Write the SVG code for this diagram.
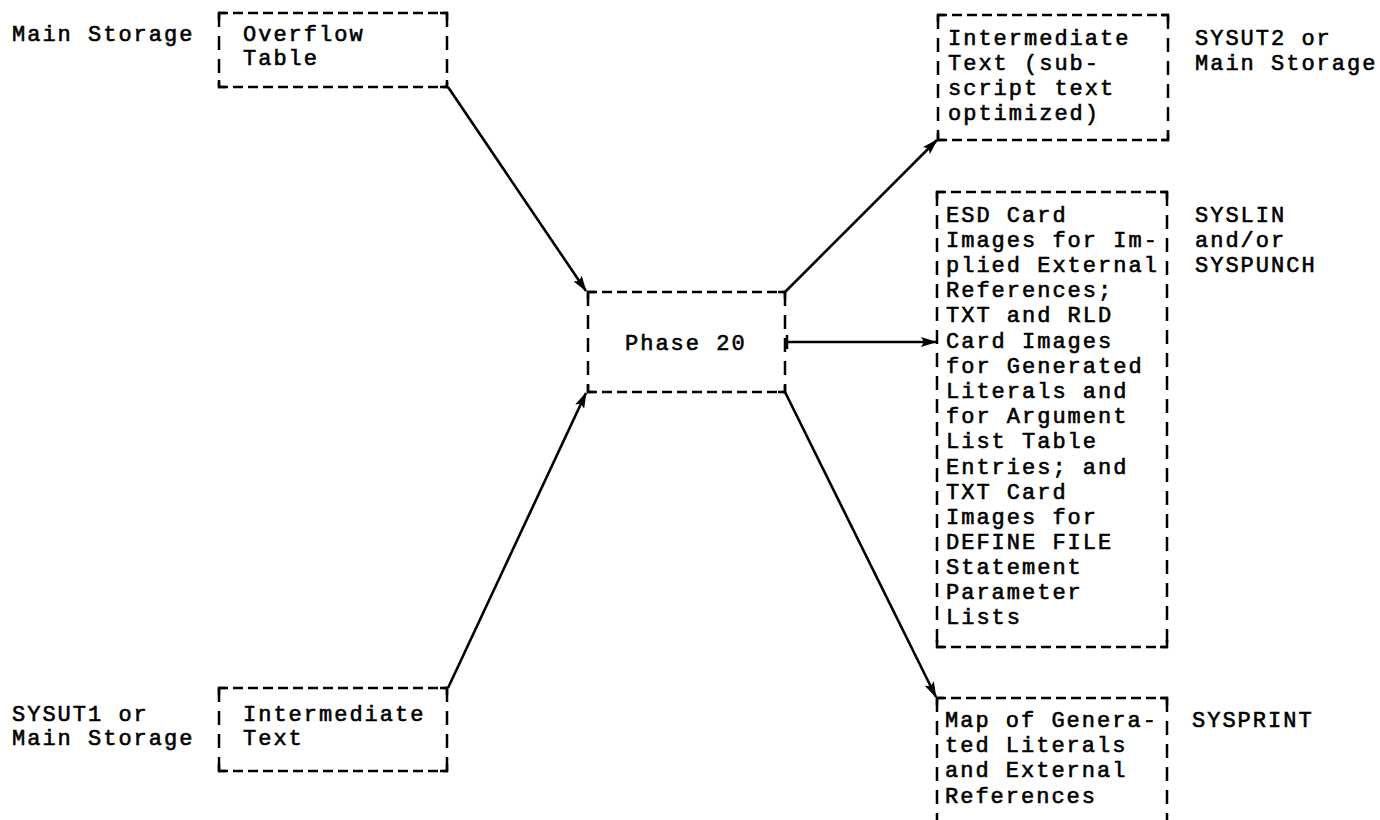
<svg xmlns="http://www.w3.org/2000/svg" width="1380" height="820" viewBox="0 0 1380 820">
  <defs>
    <marker id="arrow" viewBox="0 0 16 10" refX="15" refY="5" markerWidth="16" markerHeight="10" markerUnits="userSpaceOnUse" orient="auto">
      <path d="M0,0 L16,5 L0,10 L3,5 Z" fill="#000"/>
    </marker>
  </defs>
  <style>
    text { font-family: "Liberation Mono", "DejaVu Sans Mono", monospace; font-size: 22px; letter-spacing: 2px; fill: #000; stroke: #000; stroke-width: 0.6px; }
    .dh { fill: none; stroke: #000; stroke-width: 2.5; stroke-dasharray: 10 5; }
    .dv { fill: none; stroke: #000; stroke-width: 2.5; stroke-dasharray: 14 9; }
    .corner { fill: none; stroke: #000; stroke-width: 2.5; }
    .link { fill: none; stroke: #000; stroke-width: 2.6; marker-end: url(#arrow); }
    .tick { fill: none; stroke: #000; stroke-width: 2.5; }
  </style>
  <rect width="1380" height="820" fill="#fff"/>

  <!-- storage labels beside the data sets -->
  <g id="labels">
    <text x="12" y="41">Main Storage</text>
    <text x="12" y="721">SYSUT1 or</text>
    <text x="12" y="745">Main Storage</text>
    <text x="1195" y="45">SYSUT2 or</text>
    <text x="1195" y="70">Main Storage</text>
    <text x="1195" y="222">SYSLIN</text>
    <text x="1195" y="247">and/or</text>
    <text x="1195" y="272">SYSPUNCH</text>
    <text x="1192" y="727">SYSPRINT</text>
  </g>

  <g id="overflow-table">
    <path class="dh" d="M218,13 H448 M218,87 H448"/>
    <path class="dv" d="M219,13 V87 M447,13 V87"/>
    <path class="corner" d="M219,20 V13 H226 M440,13 H447 V20 M219,80 V87 H226 M440,87 H447 V80"/>
    <text x="243" y="41">Overflow</text>
    <text x="243" y="65">Table</text>
  </g>

  <g id="input-text">
    <path class="dh" d="M218,688 H448 M218,771 H448"/>
    <path class="dv" d="M219,688 V771 M447,688 V771"/>
    <path class="corner" d="M219,695 V688 H226 M440,688 H447 V695 M219,764 V771 H226 M440,771 H447 V764"/>
    <text x="243" y="721">Intermediate</text>
    <text x="243" y="745">Text</text>
  </g>

  <g id="phase-20">
    <path class="dh" d="M587,292 H786 M587,392 H786"/>
    <path class="dv" d="M588,292 V392 M785,292 V392"/>
    <path class="corner" d="M588,299 V292 H595 M778,292 H785 V299 M588,385 V392 H595 M778,392 H785 V385"/>
    <text x="625" y="350">Phase 20</text>
  </g>

  <g id="output-text">
    <path class="dh" d="M937,15 H1169 M937,140 H1169"/>
    <path class="dv" d="M938,15 V140 M1168,15 V140"/>
    <path class="corner" d="M938,22 V15 H945 M1161,15 H1168 V22 M938,133 V140 H945 M1161,140 H1168 V133"/>
    <text x="948" y="45">Intermediate</text>
    <text x="948" y="70">Text (sub-</text>
    <text x="948" y="95">script text</text>
    <text x="948" y="120">optimized)</text>
  </g>

  <g id="card-images">
    <path class="dh" d="M936,192 H1168 M936,647 H1168"/>
    <path class="dv" d="M937,192 V647 M1167,192 V647"/>
    <path class="corner" d="M937,199 V192 H944 M1160,192 H1167 V199 M937,640 V647 H944 M1160,647 H1167 V640"/>
    <text x="946" y="222">ESD Card</text>
    <text x="946" y="247">Images for Im-</text>
    <text x="946" y="272">plied External</text>
    <text x="946" y="297">References;</text>
    <text x="946" y="322">TXT and RLD</text>
    <text x="946" y="348">Card Images</text>
    <text x="946" y="373">for Generated</text>
    <text x="946" y="398">Literals and</text>
    <text x="946" y="423">for Argument</text>
    <text x="946" y="448">List Table</text>
    <text x="946" y="474">Entries; and</text>
    <text x="946" y="499">TXT Card</text>
    <text x="946" y="524">Images for</text>
    <text x="946" y="549">DEFINE FILE</text>
    <text x="946" y="574">Statement</text>
    <text x="946" y="599">Parameter</text>
    <text x="946" y="624">Lists</text>
  </g>

  <g id="literal-map">
    <path class="dh" d="M936,698 H1168"/>
    <path class="dv" d="M937,698 V830 M1167,698 V830"/>
    <path class="corner" d="M937,705 V698 H944 M1160,698 H1167 V705"/>
    <text x="945" y="727">Map of Genera-</text>
    <text x="945" y="752">ted Literals</text>
    <text x="945" y="777">and External</text>
    <text x="945" y="803">References</text>
  </g>

  <g id="connectors">
    <path class="link" d="M448,87 L586,291"/>
    <path class="link" d="M448,688 L586,393"/>
    <path class="link" d="M785,292 L937,140"/>
    <path class="tick" d="M787,335 V349"/>
    <path class="link" d="M787,342 H936"/>
    <path class="link" d="M785,392 L936,697"/>
  </g>
</svg>
